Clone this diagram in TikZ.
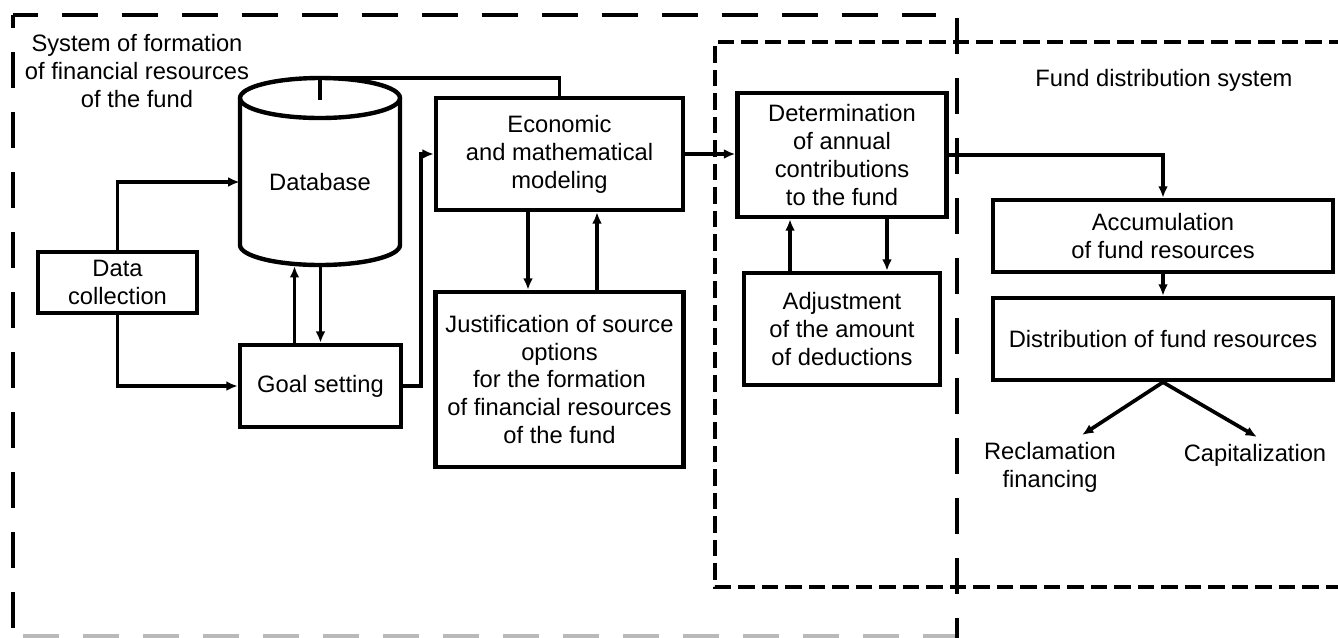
\documentclass[tikz,border=0pt]{standalone}
\usepackage{fontspec}
\setmainfont{Liberation Sans}
\usetikzlibrary{arrows.meta}
\tikzset{
  blk/.style={draw, line width=2.5pt, align=center, inner sep=2pt},
  lbl/.style={align=center, inner sep=2pt},
  link/.style={line width=2.1pt, -{Latex[length=6.5pt,width=5.5pt]}},
  wire/.style={line width=2.1pt},
  bigdash/.style={line width=2.4pt, dash pattern=on 0.72cm off 0.48cm},
  smalldash/.style={line width=2.3pt, dash pattern=on 0.33cm off 0.14cm},
}
\begin{document}
\begin{tikzpicture}[x=0.02cm, y=-0.02cm, font=\fontsize{13.5pt}{15.9pt}\selectfont]
\useasboundingbox (0,0) rectangle (1338,637);
% frames of the two systems
\draw[bigdash, dash phase=0.22cm] (13,15) -- (936,15);
\draw[bigdash, dash phase=0.46cm] (13,15) -- (13,636);
\draw[bigdash, dash phase=1.0cm, gray!55] (13,636) -- (956,636);
\draw[bigdash] (957,18) -- (957,640);
\draw[smalldash] (1345,42) -- (715,42) -- (715,587) -- (1345,587);

\draw (137,71) node[lbl] (sysform) {System of formation\\of financial resources\\of the fund};
\draw (1164,80) node[lbl] (sysdist) {Fund distribution system};

% database cylinder
\draw[line width=2.5pt] (240,98) -- (240,245) arc[start angle=180, end angle=360, x radius=1.6cm, y radius=0.4cm] -- (400,98);
\draw[line width=2.5pt] (320,98) ellipse[x radius=1.6cm, y radius=0.4cm];
\draw (320,182) node[lbl, minimum width=3.2cm] (dbase) {Database};
\coordinate (dbtop) at (320,78);
\coordinate (dbtick) at (320,100);
\coordinate (dbbot) at (320.5,266);

\draw (117.5,282.5) node[blk, minimum width=3.18cm, minimum height=1.22cm] (data) {Data\\collection};
\draw (320.5,386) node[blk, minimum width=3.22cm, minimum height=1.64cm] (goal) {Goal setting};
\draw (559.5,154) node[blk, minimum width=4.94cm, minimum height=2.24cm] (econ) {Economic\\and mathematical\\modeling};
\draw (559.5,379.5) node[blk, minimum width=4.96cm, minimum height=3.5cm] (justif) {Justification of source\\options\\for the formation\\of financial resources\\of the fund};
\draw (842,155) node[blk, minimum width=4.18cm, minimum height=2.48cm] (determ) {Determination\\of annual\\contributions\\to the fund};
\draw (842,329) node[blk, minimum width=3.92cm, minimum height=2.24cm] (adjust) {Adjustment\\of the amount\\of deductions};
\draw (1163,236) node[blk, minimum width=6.8cm, minimum height=1.44cm] (accum) {Accumulation\\of fund resources};
\draw (1163,339) node[blk, minimum width=6.8cm, minimum height=1.64cm] (distr) {Distribution of fund resources};
\draw (1050,467) node[lbl] (reclam) {Reclamation\\financing};
\draw (1255,455) node[lbl] (capital) {Capitalization};
\coordinate (reclamtip) at (1082,435);
\coordinate (capitaltip) at (1257,437);

% connectors
\draw[wire] (dbtick) -- (dbtop) -| (econ.north);
\draw[link] (data.north) |- (dbase.west);
\draw[link] (data.south) |- (goal.west);
\draw[link] ([xshift=-0.52cm]goal.north) -- ([xshift=-0.52cm]dbbot);
\draw[link] (dbbot) -- (goal.north);
\draw[link] (goal.east) -- ++(18,0) |- (econ.west);
\draw[link] ([xshift=-0.63cm]econ.south) -- ([xshift=-0.63cm]justif.north);
\draw[link] ([xshift=0.75cm]justif.north) -- ([xshift=0.75cm]econ.south);
\draw[link] (econ.east) -- (econ.east -| determ.west);
\draw[link] (determ.east) -| (accum.north);
\draw[link] ([xshift=-1.04cm]adjust.north) -- ([xshift=-1.04cm]determ.south);
\draw[link] ([xshift=0.9cm]determ.south) -- ([xshift=0.9cm]adjust.north);
\draw[link] (accum) -- (distr);
\draw[link] (distr.south) -- (reclamtip);
\draw[link] (distr.south) -- (capitaltip);
\end{tikzpicture}
\end{document}
